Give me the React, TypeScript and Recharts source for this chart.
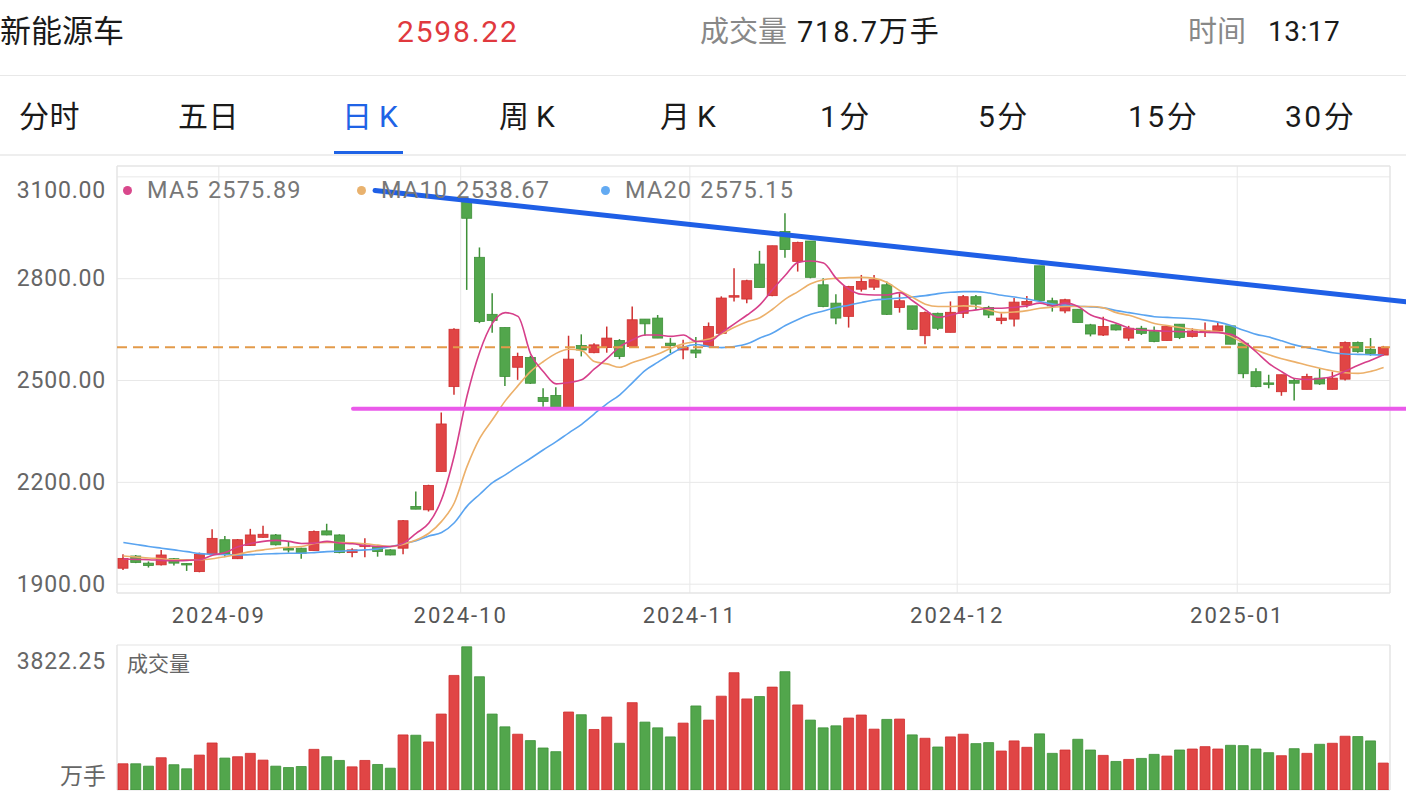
import React from 'react';
import {
  ComposedChart, Bar, Line, XAxis, YAxis, CartesianGrid, ReferenceLine, ReferenceArea, Cell,
} from 'recharts';

const FONT = "Roboto, 'Noto Sans CJK SC', sans-serif";
const RED = '#e04545';
const RED_EDGE = '#cf2f2f';
const GREEN = '#52a64c';
const GREEN_EDGE = '#3e9038';

// trading days: Aug 21 2024 .. Jan 17 2025 (100 sessions)
const monthTicks = [8, 27, 45, 66, 88];
const monthLabels = ['2024-09', '2024-10', '2024-11', '2024-12', '2025-01'];
const priceTicks = [1900, 2200, 2500, 2800, 3100];

const opens = [
  1947, 1983, 1962, 1957, 1975, 1961, 1937, 1989, 2031, 1975,
  2014, 2038, 2045, 2005, 2006, 1999, 2057, 2045, 1993, 2011,
  2011, 2001, 2006, 2129, 2119, 2232, 2482, 3027, 2863, 2695,
  2656, 2539, 2568, 2450, 2456, 2418, 2603, 2582, 2597, 2618,
  2600, 2681, 2684, 2610, 2590, 2590, 2600, 2639, 2746, 2740,
  2843, 2750, 2939, 2851, 2911, 2782, 2728, 2689, 2769, 2775,
  2782, 2715, 2720, 2632, 2698, 2642, 2698, 2747, 2715, 2677,
  2681, 2723, 2838, 2735, 2705, 2710, 2664, 2634, 2664, 2625,
  2654, 2644, 2618, 2666, 2630, 2641, 2646, 2661, 2610, 2526,
  2493, 2467, 2500, 2474, 2507, 2474, 2504, 2612, 2592, 2575,
];
const highs = [
  1988, 1986, 1967, 2001, 1977, 1962, 1993, 2062, 2042, 2033,
  2063, 2072, 2048, 2026, 2007, 2058, 2078, 2047, 2006, 2035,
  2014, 2003, 2089, 2173, 2193, 2406, 2654, 3032, 2892, 2757,
  2656, 2582, 2573, 2477, 2480, 2632, 2636, 2610, 2659, 2622,
  2718, 2681, 2693, 2625, 2620, 2628, 2671, 2748, 2831, 2797,
  2882, 2897, 2993, 2909, 2911, 2801, 2754, 2779, 2811, 2811,
  2792, 2757, 2720, 2703, 2700, 2733, 2752, 2752, 2720, 2698,
  2743, 2749, 2838, 2744, 2741, 2710, 2667, 2688, 2666, 2661,
  2661, 2659, 2661, 2666, 2654, 2671, 2671, 2661, 2610, 2536,
  2517, 2517, 2507, 2520, 2536, 2526, 2615, 2615, 2625, 2602,
];
const lows = [
  1942, 1962, 1949, 1955, 1955, 1939, 1935, 1989, 1981, 1974,
  2013, 2037, 2014, 1993, 1975, 1999, 2044, 1991, 1979, 1979,
  1981, 1985, 1988, 2121, 2114, 2232, 2458, 2767, 2669, 2641,
  2484, 2502, 2490, 2423, 2414, 2418, 2571, 2580, 2582, 2563,
  2600, 2632, 2625, 2581, 2563, 2566, 2598, 2637, 2733, 2728,
  2774, 2748, 2862, 2821, 2801, 2716, 2666, 2656, 2762, 2767,
  2693, 2700, 2649, 2607, 2649, 2642, 2684, 2708, 2684, 2666,
  2659, 2715, 2733, 2703, 2698, 2671, 2630, 2631, 2647, 2617,
  2634, 2613, 2618, 2622, 2627, 2628, 2644, 2607, 2507, 2480,
  2477, 2455, 2441, 2474, 2487, 2474, 2500, 2582, 2573, 2573,
];
const closes = [
  1976, 1964, 1955, 1986, 1962, 1957, 1988, 2035, 1989, 2031,
  2045, 2047, 2016, 2001, 1991, 2055, 2045, 1993, 2001, 2015,
  1996, 1986, 2087, 2121, 2191, 2372, 2651, 2978, 2674, 2677,
  2512, 2571, 2492, 2438, 2418, 2563, 2590, 2605, 2625, 2571,
  2679, 2667, 2625, 2603, 2597, 2581, 2659, 2743, 2750, 2794,
  2774, 2897, 2886, 2907, 2804, 2718, 2684, 2777, 2792, 2797,
  2695, 2735, 2651, 2700, 2654, 2701, 2747, 2725, 2693, 2684,
  2731, 2733, 2736, 2720, 2738, 2671, 2637, 2659, 2649, 2654,
  2639, 2615, 2659, 2627, 2646, 2646, 2661, 2607, 2520, 2482,
  2490, 2517, 2492, 2512, 2490, 2507, 2612, 2585, 2580, 2598.22,
];
const volumes = [
  700, 700, 636, 861, 675, 566, 932, 1255, 852, 888,
  978, 798, 636, 600, 627, 1085, 888, 789, 618, 789,
  681, 582, 1470, 1462, 1282, 2027, 3058, 3822.25, 3023, 2027,
  1686, 1489, 1319, 1121, 1023, 2081, 2009, 1615, 1946, 1247,
  2332, 1812, 1659, 1417, 1785, 2243, 1866, 2504, 3131, 2431,
  2494, 2746, 3158, 2270, 1866, 1659, 1713, 1920, 2001, 1624,
  1884, 1893, 1471, 1381, 1148, 1417, 1489, 1238, 1265, 1040,
  1310, 1139, 1498, 978, 1067, 1354, 1067, 924, 762, 816,
  843, 951, 906, 1067, 1094, 1157, 1094, 1193, 1184, 1094,
  996, 915, 1103, 978, 1220, 1247, 1435, 1427, 1310, 718.7,
];
const ma5 = [
  1974, 1973, 1972, 1970, 1969, 1970, 1972, 1985, 1993, 2010,
  2020, 2026, 2029, 2026, 2020, 2021, 2026, 2021, 2019, 2014,
  2011, 2011, 2021, 2050, 2080, 2150, 2280, 2455, 2585, 2669,
  2700, 2689, 2578, 2526, 2490, 2494, 2502, 2534, 2565, 2600,
  2620, 2634, 2634, 2630, 2634, 2615, 2615, 2641, 2667, 2693,
  2723, 2768, 2810, 2848, 2852, 2846, 2801, 2769, 2754, 2752,
  2752, 2759, 2735, 2708, 2686, 2693, 2703, 2708, 2713, 2713,
  2716, 2720, 2728, 2720, 2728, 2718, 2693, 2681, 2669, 2654,
  2649, 2647, 2645, 2644, 2643, 2642, 2641, 2636, 2615, 2584,
  2550, 2526, 2506, 2503, 2506, 2512, 2528, 2545, 2560, 2575.89,
];
const ma10 = [
  1983, 1980, 1977, 1975, 1972, 1972, 1972, 1975, 1981, 1988,
  1996, 2001, 2006, 2009, 2011, 2020, 2023, 2023, 2022, 2019,
  2015, 2011, 2018, 2030, 2050, 2085, 2140, 2247, 2330, 2385,
  2440, 2485, 2527, 2556, 2580, 2592, 2588, 2556, 2549, 2539,
  2553, 2565, 2578, 2595, 2608, 2615, 2622, 2638, 2657, 2673,
  2685, 2710, 2740, 2762, 2785, 2797, 2801, 2803, 2804, 2801,
  2789, 2765, 2745, 2725, 2718, 2718, 2720, 2718, 2708, 2700,
  2702, 2706, 2713, 2716, 2718, 2718, 2718, 2714, 2700, 2692,
  2680, 2668, 2662, 2656, 2651, 2647, 2644, 2630, 2610, 2590,
  2576, 2564, 2555, 2545, 2536, 2528, 2523, 2521, 2527, 2538.67,
];
const ma20 = [
  2023, 2017, 2011, 2006, 2001, 1996, 1990, 1988, 1987, 1986,
  1987, 1989, 1990, 1991, 1991, 1993, 1996, 1997, 1999, 2001,
  2004, 2011, 2019, 2028, 2042, 2052, 2081, 2130, 2165, 2199,
  2222, 2247, 2271, 2296, 2320, 2346, 2371, 2402, 2432, 2458,
  2494, 2530, 2554, 2578, 2598, 2606, 2600, 2597, 2600, 2608,
  2625, 2640, 2662, 2680, 2695, 2705, 2715, 2722, 2730, 2737,
  2740, 2743, 2746, 2750, 2756, 2760, 2762, 2762, 2758, 2751,
  2746, 2740, 2733, 2725, 2722, 2719, 2717, 2714, 2706, 2700,
  2694, 2688, 2686, 2684, 2682, 2678, 2672, 2662, 2648, 2636,
  2628, 2617, 2605, 2597, 2590, 2582, 2578, 2577, 2576, 2575.15,
];

const lastPrice = 2598.22;
const supportLevel = 2416.6;
const trendStart = { x: 20.27, y: 3060 };
const trendEnd = { x: 101.26, y: 2732 };
const supportStartX = 18.54;
const VOL_MAX = 3822.25;

const data = closes.map((c, i) => ({
  x: i + 0.5,
  open: opens[i],
  high: highs[i],
  low: lows[i],
  close: c,
  range: [lows[i], highs[i]],
  volume: volumes[i],
  ma5: ma5[i],
  ma10: ma10[i],
  ma20: ma20[i],
}));

const Candle = (props: any) => {
  const { x, y, width, height, payload } = props;
  if (x == null || y == null) return null;
  const { open, close, high, low } = payload;
  const up = close >= open;
  const fill = up ? RED : GREEN;
  const edge = up ? RED_EDGE : GREEN_EDGE;
  const top = Math.min(y, y + height);
  const h = Math.abs(height);
  const ratio = h / (high - low || 1);
  const yOf = (v: number) => top + (high - v) * ratio;
  const bodyTop = yOf(Math.max(open, close));
  const bodyH = Math.max(yOf(Math.min(open, close)) - bodyTop, 1.5);
  const cx = x + width / 2;
  return (
    <g>
      <line x1={cx} x2={cx} y1={top} y2={top + h} stroke={edge} strokeWidth={1.5} />
      <rect x={x} y={bodyTop} width={width} height={bodyH} fill={fill} stroke={edge} strokeWidth={0.8} />
    </g>
  );
};

const PriceTick = ({ x, y, payload }: any) => (
  <text x={x - 11} y={y + (payload.value === 3100 ? 14 : 0)} textAnchor="end" dominantBaseline="central"
    fontSize={23} fill="#666" fontFamily={FONT} letterSpacing={0.8}>
    {payload.value.toFixed(2)}
  </text>
);

const DateTick = ({ x, y, payload }: any) => (
  <text x={x} y={y + 22} textAnchor="middle" dominantBaseline="central" fontSize={22} fill="#555"
    fontFamily={FONT} letterSpacing={2}>
    {monthLabels[monthTicks.indexOf(payload.value)]}
  </text>
);

const VolTick = ({ x, y, payload }: any) => (
  <text x={x - 11} y={y + 15} textAnchor="end" dominantBaseline="central"
    fontSize={23} fill="#666" fontFamily={FONT} letterSpacing={0.8}>
    {payload.value.toFixed(2)}
  </text>
);

const Txt = ({ left, cy, size, color, children, spacing }: any) => (
  <div style={{
    position: 'absolute', left, top: cy - 20, height: 40, lineHeight: '40px', fontSize: size,
    color, whiteSpace: 'nowrap', letterSpacing: spacing ?? 0,
  }}>{children}</div>
);

const tabs = [
  { t: '分时', x: 19 }, { t: '五日', x: 178 }, { t: '日K', x: 342 }, { t: '周K', x: 499 },
  { t: '月K', x: 660 }, { t: '1分', x: 820 }, { t: '5分', x: 978 }, { t: '15分', x: 1128 }, { t: '30分', x: 1285 },
];

const legend = [
  { name: 'MA5', value: '2575.89', color: '#d9488c', x: 127 },
  { name: 'MA10', value: '2538.67', color: '#e9b26e', x: 361 },
  { name: 'MA20', value: '2575.15', color: '#63aaf2', x: 605 },
];

export default function App() {
  return (
    <div style={{ position: 'absolute', left: 0, top: 0, width: 1406, height: 798, background: '#fff', fontFamily: FONT, overflow: 'hidden' }}>
      {/* header */}
      <Txt left={0} cy={32} size={31} color="#1a1a1a">新能源车</Txt>
      <Txt left={397} cy={32} size={30} color="#e0393e" spacing={1.8}>2598.22</Txt>
      <Txt left={700} cy={32} size={29} color="#888">成交量</Txt>
      <Txt left={797} cy={32} size={29} color="#1a1a1a" spacing={1.8}>718.7万手</Txt>
      <Txt left={1188} cy={32} size={29} color="#888">时间</Txt>
      <Txt left={1268} cy={32} size={28} color="#1a1a1a" spacing={0.5}>13:17</Txt>
      <div style={{ position: 'absolute', left: 0, top: 75, width: 1406, height: 1, background: '#e8e8e8' }} />
      {tabs.map(tb => (
        <Txt key={tb.t} left={tb.x} cy={117} size={30} color={tb.t === '日K' ? '#1f63e6' : '#1a1a1a'}
          spacing={tb.t.includes('K') ? 7 : /\d/.test(tb.t) ? 2.5 : 0.5}>{tb.t}</Txt>
      ))}
      <div style={{ position: 'absolute', left: 334, top: 151, width: 69, height: 3, background: '#1f63e6' }} />
      <div style={{ position: 'absolute', left: 0, top: 154, width: 1406, height: 2, background: '#eeeeee' }} />

      {/* price chart */}
      <div style={{ position: 'absolute', left: 0, top: 156 }}>
        <ComposedChart width={1406} height={478} data={data} margin={{ top: 10, right: 16, bottom: 0, left: 0 }}>
          <CartesianGrid stroke="#e8e8e8" strokeWidth={1} />
          <XAxis dataKey="x" type="number" domain={[0, 100]} allowDataOverflow ticks={monthTicks}
            tick={<DateTick />} tickSize={0} tickMargin={0} axisLine={false} tickLine={false} height={41} />
          <YAxis type="number" domain={[1874, 3132]} allowDataOverflow ticks={priceTicks} width={117}
            tick={<PriceTick />} tickSize={0} tickMargin={0} axisLine={false} tickLine={false} />
          <ReferenceArea x1={0} x2={100} y1={1874} y2={3132} fill="none" stroke="#e3e3e3" ifOverflow="visible" />
          <Bar dataKey="range" barSize={10} shape={<Candle />} isAnimationActive={false} />
          <Line dataKey="ma20" type="monotone" stroke="#5aa4f0" strokeWidth={1.6} dot={false} isAnimationActive={false} />
          <Line dataKey="ma10" type="monotone" stroke="#ecb06a" strokeWidth={1.6} dot={false} isAnimationActive={false} />
          <Line dataKey="ma5" type="monotone" stroke="#d63f8a" strokeWidth={1.6} dot={false} isAnimationActive={false} />
          <ReferenceLine y={lastPrice} stroke="#e39a4a" strokeWidth={2} strokeDasharray="10 6" ifOverflow="visible" />
          <ReferenceLine segment={[{ x: supportStartX, y: supportLevel }, { x: 101.3, y: supportLevel }]}
            stroke="#ea5aea" strokeWidth={4} strokeLinecap="round" ifOverflow="visible" />
          <ReferenceLine segment={[trendStart, trendEnd]} stroke="#1f5fe6" strokeWidth={5}
            strokeLinecap="round" ifOverflow="visible" />
        </ComposedChart>
      </div>

      {/* MA legend */}
      {legend.map(l => (
        <div key={l.name} style={{ position: 'absolute', left: l.x - 4.5, top: 170, height: 40, display: 'flex', alignItems: 'center', fontSize: 23.5, color: '#777', whiteSpace: 'nowrap', letterSpacing: 1.2 }}>
          <span style={{ width: 9, height: 9, borderRadius: 5, background: l.color, display: 'inline-block', marginRight: 15.5 }} />
          <span style={{ marginRight: 8 }}>{l.name}</span>
          <span>{l.value}</span>
        </div>
      ))}

      {/* volume chart */}
      <div style={{ position: 'absolute', left: 0, top: 630 }}>
        <ComposedChart width={1406} height={168} data={data} margin={{ top: 15, right: 16, bottom: 7, left: 0 }}>
          <CartesianGrid stroke="#e8e8e8" horizontal={false} />
          <XAxis dataKey="x" type="number" domain={[0, 100]} allowDataOverflow ticks={monthTicks}
            tick={false} tickSize={0} axisLine={false} tickLine={false} height={1} />
          <YAxis type="number" domain={[0, 3870]} allowDataOverflow ticks={[VOL_MAX]} width={117}
            tick={<VolTick />} tickSize={0} tickMargin={0} axisLine={false} tickLine={false} />
          <ReferenceArea x1={0} x2={100} y1={0} y2={3870} fill="none" stroke="#e3e3e3" ifOverflow="visible" />
          <Bar dataKey="volume" barSize={10} isAnimationActive={false} strokeWidth={0.8}>
            {data.map((d, i) => (
              <Cell key={i} fill={d.close >= d.open ? RED : GREEN} stroke={d.close >= d.open ? RED_EDGE : GREEN_EDGE} />
            ))}
          </Bar>
        </ComposedChart>
      </div>
      <Txt left={127} cy={664} size={21} color="#666">成交量</Txt>
      <Txt left={60} cy={777} size={23} color="#666">万手</Txt>
    </div>
  );
}
